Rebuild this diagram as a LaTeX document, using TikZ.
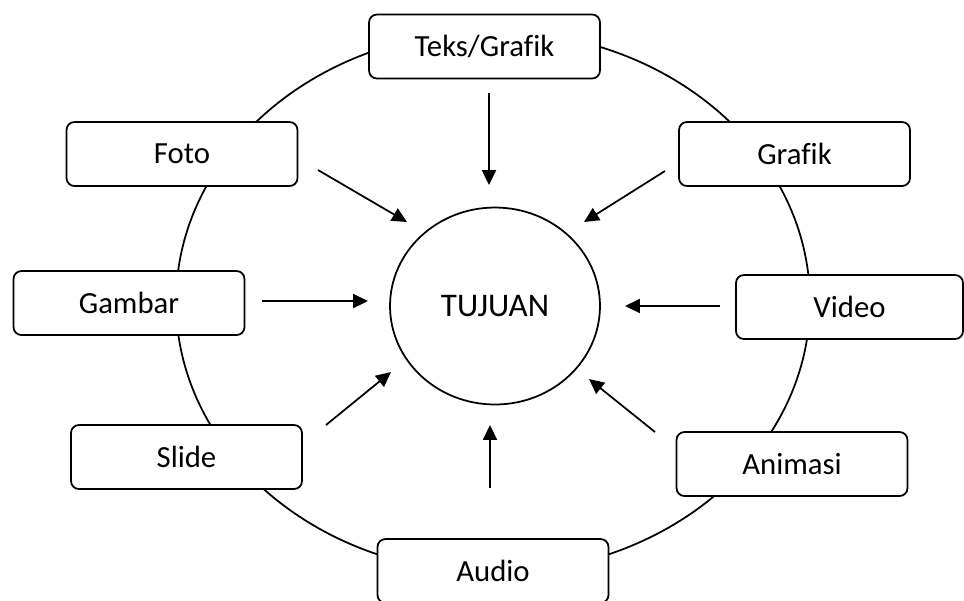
\documentclass[tikz,border=0pt]{standalone}
\usepackage{fontspec}
\setmainfont{Carlito}[Ligatures=NoCommon]
\usetikzlibrary{arrows.meta, shapes.geometric}

\begin{document}
\begin{tikzpicture}[
    x=0.02cm, y=-0.02cm,
    font=\fontsize{17.5}{21}\selectfont,
    box/.style={draw, rectangle, rounded corners=4.5pt, fill=white, line width=1pt, minimum width=4.62cm, minimum height=1.28cm, align=center},
    ring/.style={draw, ellipse, line width=1pt, minimum width=12.68cm, minimum height=10.84cm},
    goal/.style={draw, ellipse, line width=1pt, minimum width=4.2cm, minimum height=3.94cm, font=\fontsize{18.8}{22}\selectfont},
    arr/.style={-{Triangle[length=8.5pt, width=8pt]}, line width=1pt}
]
    \useasboundingbox (0,0) rectangle (964,600);

    % outer ring and centre
    \node[ring] (ring) at (493,302) {};
    \node[goal] (tujuan) at (495,306) {TUJUAN};

    % media boxes
    \node[box] (teks) at (484.5,46.5) {Teks/Grafik};
    \node[box] (foto) at (182,154) {Foto};
    \node[box] (grafik) at (794.5,154) {Grafik};
    \node[box] (gambar) at (129,303) {Gambar};
    \node[box, minimum width=4.54cm] (video) at (849.5,307) {Video};
    \node[box] (slide) at (186.5,457) {Slide};
    \node[box] (animasi) at (792,464) {Animasi};
    \node[box] (audio) at (493,571) {Audio};

    % arrow ends
    \coordinate (fromTeks) at (489,93);      \coordinate (toTeks) at (489,185);
    \coordinate (fromFoto) at (318,170);     \coordinate (toFoto) at (407,222);
    \coordinate (fromGrafik) at (665,171);   \coordinate (toGrafik) at (584,222);
    \coordinate (fromGambar) at (262,301);   \coordinate (toGambar) at (368,301);
    \coordinate (fromVideo) at (720,306);    \coordinate (toVideo) at (625,306);
    \coordinate (fromSlide) at (326,425);    \coordinate (toSlide) at (391,372);
    \coordinate (fromAnimasi) at (655,432);  \coordinate (toAnimasi) at (589,379);
    \coordinate (fromAudio) at (490,488);    \coordinate (toAudio) at (490,425);

    \draw[arr] (fromTeks) -- (toTeks);
    \draw[arr] (fromFoto) -- (toFoto);
    \draw[arr] (fromGrafik) -- (toGrafik);
    \draw[arr] (fromGambar) -- (toGambar);
    \draw[arr] (fromVideo) -- (toVideo);
    \draw[arr] (fromSlide) -- (toSlide);
    \draw[arr] (fromAnimasi) -- (toAnimasi);
    \draw[arr] (fromAudio) -- (toAudio);
\end{tikzpicture}
\end{document}
